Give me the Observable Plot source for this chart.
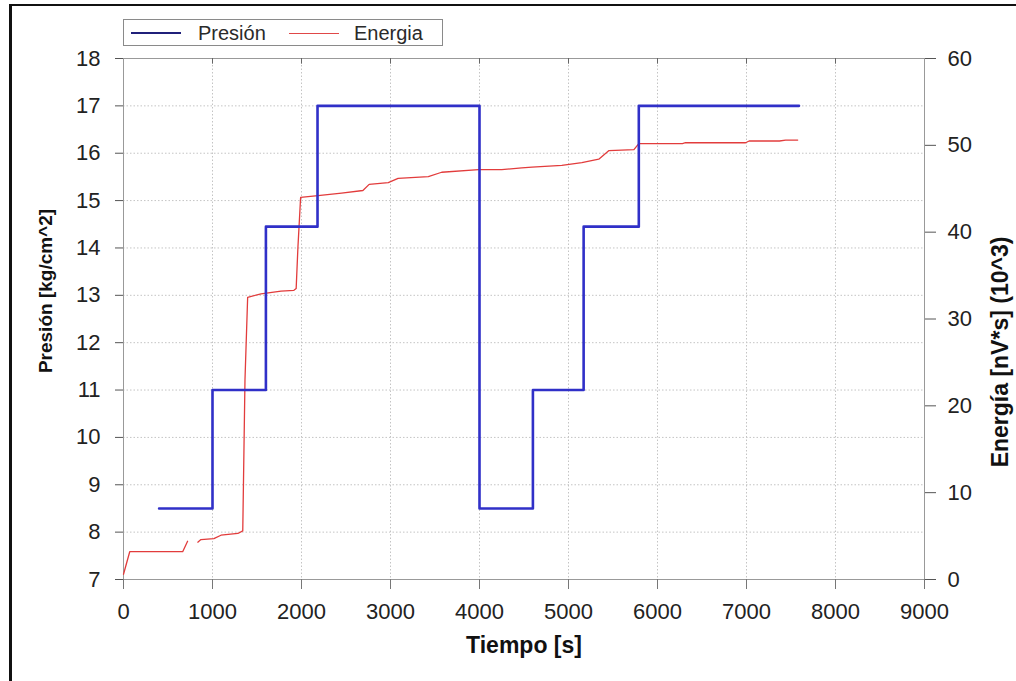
<!DOCTYPE html>
<html>
<head>
<meta charset="utf-8">
<script src="https://cdn.jsdelivr.net/npm/d3@7"></script>
<script src="https://cdn.jsdelivr.net/npm/@observablehq/plot@0.6"></script>
<style>
  body { margin: 0; background: #fff; font-family: "Liberation Sans", Arial, sans-serif; }
  #wrap { position: relative; width: 1016px; height: 681px; overflow: hidden; background: #fff; }
  #wrap svg { position: absolute; left: 0; top: 0; }
  .bt { position: absolute; left: 9px; top: 4px; right: 0; height: 2px; background: #111; z-index: 3; }
  .bl { position: absolute; left: 9px; top: 4px; bottom: 0; width: 3px; background: #111; z-index: 3; }
  #legend { position: absolute; left: 123px; top: 19px; width: 318px; height: 25px; border: 1px solid #8a8a8a; background: #fff; z-index: 2; }
  #legend .ln { position: absolute; }
  #legend .tx { position: absolute; font-size: 20px; line-height: 20px; color: #2a2a2a; white-space: nowrap; }
</style>
</head>
<body>
<div id="wrap">
  <div class="bt"></div>
  <div class="bl"></div>
  <div id="legend"></div>
</div>
<script>
// ---- data ----
const xTicks = [0, 1000, 2000, 3000, 4000, 5000, 6000, 7000, 8000, 9000];
const presionTicks = [7, 8, 9, 10, 11, 12, 13, 14, 15, 16, 17, 18];
const energiaTicks = [0, 10, 20, 30, 40, 50, 60];

// Presión (step series): time [s], pressure [kg/cm^2]
const presionTiempo = [400, 1000, 1600, 2180, 4000, 4600, 5170, 5790, 7590];
const presionValor  = [8.5, 11.0, 14.45, 17.0, 8.5, 11.0, 14.45, 17.0, 17.0];

// Energía: time [s], energy [nV*s] (10^3); null = gap in the trace
const energiaTiempo = [0, 70, 665, 720, 770, 835, 870, 1015, 1095, 1285, 1340, 1365, 1395, 1545, 1770, 1915, 1940, 1960, 1990, 2185, 2450, 2690, 2760, 2975, 3085, 3425, 3575, 3990, 4250, 4475, 4590, 4925, 5150, 5340, 5455, 5735, 5790, 6280, 6315, 6990, 7030, 7370, 7440, 7575];
const energiaValor  = [0.6, 3.2, 3.2, 4.4, null, 4.3, 4.6, 4.7, 5.1, 5.3, 5.6, 23, 32.5, 32.9, 33.2, 33.3, 33.5, 38.3, 44.0, 44.2, 44.5, 44.8, 45.5, 45.7, 46.2, 46.4, 46.9, 47.2, 47.2, 47.4, 47.5, 47.7, 48.0, 48.4, 49.4, 49.5, 50.2, 50.2, 50.3, 50.3, 50.5, 50.5, 50.6, 50.6];

const seriesNames = ["Presión", "Energia"];
const tituloX = "Tiempo [s]";
const tituloY = "Presión [kg/cm^2]";
const tituloY2 = "Energía [nV*s] (10^3)";

// ---- build tables ----
const presion = presionTiempo.map((t, i) => ({t, p: presionValor[i]}));
const energia = energiaTiempo.map((t, i) => ({t, e: energiaValor[i]}));

// map energy (0..60) onto the pressure scale (7..18)
const pMin = 7, pMax = 18, eMax = 60;
const toP = e => pMin + e * (pMax - pMin) / eMax;
const toE = p => Math.round((p - pMin) * eMax / (pMax - pMin));

const font = '"Liberation Sans", Arial, sans-serif';

const chart = Plot.plot({
  width: 1016,
  height: 681,
  marginLeft: 123,
  marginRight: 92,
  marginTop: 58,
  marginBottom: 102,
  style: { fontFamily: font, fontSize: "22px", color: "#222", background: "transparent" },
  x: { domain: [0, 9000] },
  y: { domain: [pMin, pMax] },
  marks: [
    Plot.gridX(xTicks, { stroke: "#c4c4c4", strokeOpacity: 1, strokeDasharray: "1.5,2" }),
    Plot.gridY(presionTicks, { stroke: "#c4c4c4", strokeOpacity: 1, strokeDasharray: "1.5,2" }),
    Plot.frame({ stroke: "#999" }),
    Plot.axisX(xTicks, { tickSize: 10, tickPadding: 14, tickFormat: d => String(d), stroke: "#777", label: null, fontSize: 22 }),
    Plot.axisY(presionTicks, { anchor: "left", tickSize: 8, tickPadding: 15, tickFormat: d => String(d), stroke: "#555", label: null, fontSize: 22 }),
    Plot.axisY(energiaTicks.map(toP), { anchor: "right", tickSize: 11, tickPadding: 12, tickFormat: d => String(toE(d)), stroke: "#555", label: null, fontSize: 22 }),
    Plot.ruleX(xTicks.slice(1, -1), { y1: pMax, y2: pMax - 0.12, stroke: "#666" }),
    Plot.line(energia, { x: "t", y: d => d.e == null ? NaN : toP(d.e), stroke: "#e23c3c", strokeWidth: 1.3 }),
    Plot.line(presion, { x: "t", y: "p", curve: "step-after", stroke: "#3030c8", strokeWidth: 2.6 }),
    Plot.text([tituloY], { frameAnchor: "left", textAnchor: "middle", dx: -78, dy: -28, rotate: -90, fontWeight: "bold", fontSize: 19, fill: "#111" }),
    Plot.text([tituloY2], { frameAnchor: "right", textAnchor: "middle", dx: 76, dy: 33, rotate: -90, fontWeight: "bold", fontSize: 23, fill: "#111" }),
    Plot.text([tituloX], { frameAnchor: "bottom", dy: 73, fontWeight: "bold", fontSize: 23, fill: "#111" })
  ]
});
document.getElementById("wrap").appendChild(chart);

// ---- legend ----
const legend = document.getElementById("legend");
const items = [
  { name: seriesNames[0], color: "#20207a", h: 2, lineLeft: 7, textLeft: 74 },
  { name: seriesNames[1], color: "#e04848", h: 1, lineLeft: 165, textLeft: 230 }
];
for (const it of items) {
  const ln = document.createElement("div");
  ln.className = "ln";
  ln.style.left = it.lineLeft + "px";
  ln.style.top = (13 - Math.floor(it.h / 2)) + "px";
  ln.style.width = "50px";
  ln.style.height = it.h + "px";
  ln.style.background = it.color;
  legend.appendChild(ln);
  const tx = document.createElement("span");
  tx.className = "tx";
  tx.style.left = it.textLeft + "px";
  tx.style.top = "3px";
  tx.textContent = it.name;
  legend.appendChild(tx);
}
</script>
</body>
</html>
